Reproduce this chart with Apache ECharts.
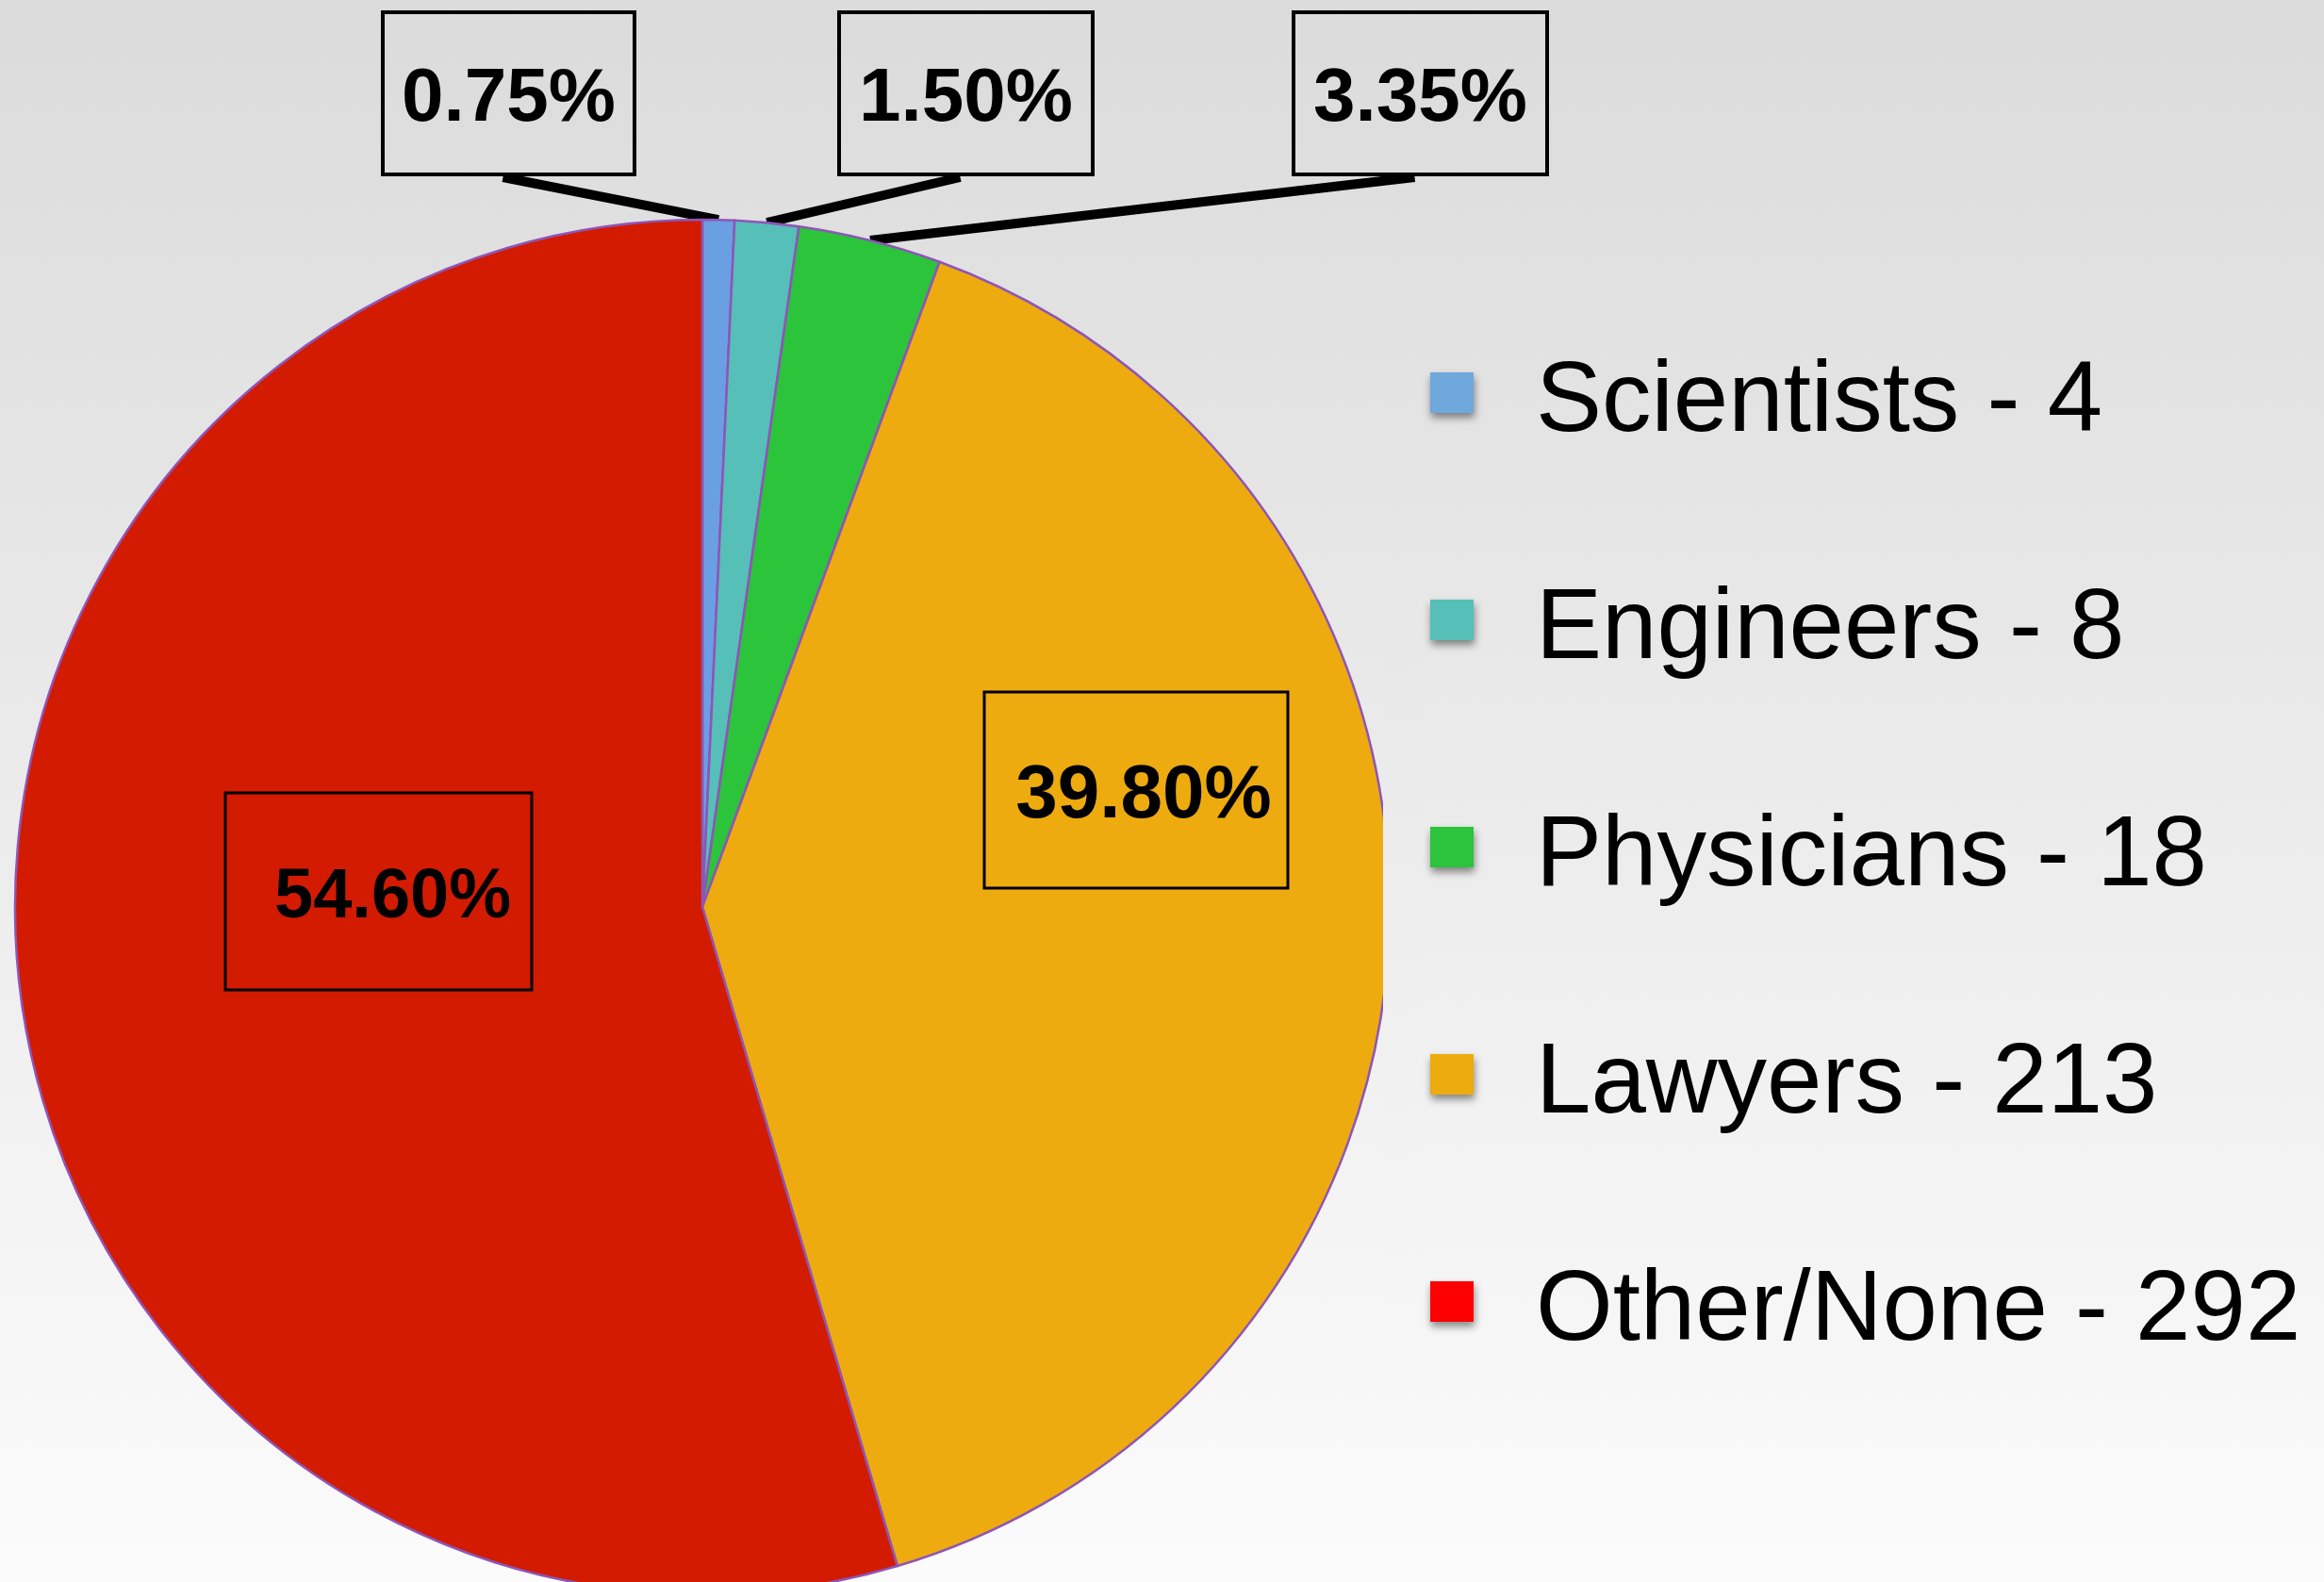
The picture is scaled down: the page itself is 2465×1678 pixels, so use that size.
<!DOCTYPE html>
<html><head><meta charset="utf-8">
<script src="https://cdn.jsdelivr.net/npm/echarts@6/dist/echarts.min.js"></script>
<style>html,body{margin:0;padding:0;background:#fff;}#c{width:2465px;height:1678px;}</style>
</head><body><div id="c"></div>
<script>
// ---- data ----
const categories = ['Scientists', 'Engineers', 'Physicians', 'Lawyers', 'Other/None'];
const counts = [4, 8, 18, 213, 292];
const percentLabels = ['0.75%', '1.50%', '3.35%', '39.80%', '54.60%'];

// ---- styles / layout ----
const sliceColors = ['#6b9fe4', '#55bfb8', '#2bc43b', '#edab10', '#d21b00'];
const legendColors = ['#6fa8dc', '#55bfb8', '#2bc43b', '#edab10', '#ff0000'];
// label boxes: [left, top, width, height, textOffsetX, fontSize]
const boxes = [
  [406, 13, 267, 172, 0, 80],
  [890, 13, 269, 172, 0, 80],
  [1372, 13, 269, 172, 0, 80],
  [1044, 734, 322, 208, 8, 80],
  [239, 841, 325, 209, 15, 74]
];
const textDrop = 14;
const H = 1678;
const bgTop = 219, bgBottom = 251;
function bgAt(y) { const v = Math.round(bgTop + (bgBottom - bgTop) * y / H); return 'rgb(' + v + ',' + v + ',' + v + ')'; }

const chart = echarts.init(document.getElementById('c'), null, { renderer: 'canvas' });

const data = categories.map((n, i) => {
  const b = boxes[i];
  const off = b[4];
  return {
    name: n,
    value: counts[i],
    itemStyle: { color: sliceColors[i] },
    label: {
      position: i < 3 ? 'outside' : 'inside',
      fontSize: b[5],
      height: b[3],
      lineHeight: b[3] + textDrop,
      width: b[2] - 2 * off,
      padding: [0, 0, 0, 2 * off],
      borderWidth: i < 3 ? 2 : 1.5
    },
    labelLine: { show: i < 3 }
  };
});

chart.setOption({
  animation: false,
  backgroundColor: new echarts.graphic.LinearGradient(0, 0, 0, 1, [
    { offset: 0, color: bgAt(0) }, { offset: 1, color: bgAt(H) }
  ]),
  legend: {
    orient: 'vertical',
    left: 1517,
    top: 352,
    padding: 0,
    itemWidth: 46,
    itemHeight: 43,
    itemGap: 112,
    icon: 'rect',
    selectedMode: false,
    itemStyle: { borderWidth: 0, shadowBlur: 8, shadowColor: 'rgba(0,0,0,0.45)', shadowOffsetX: 1, shadowOffsetY: 5 },
    textStyle: {
      fontFamily: 'Liberation Sans', fontSize: 105, color: '#000',
      rich: {
        t: { fontFamily: 'Liberation Sans', fontSize: 105, color: '#000', lineHeight: 106, padding: [24, 0, 0, 61] }
      }
    },
    formatter: name => '{t|' + name + ' - ' + counts[categories.indexOf(name)] + '}',
    data: categories.map((n, i) => ({ name: n, itemStyle: { color: legendColors[i] } }))
  },
  series: [{
    type: 'pie',
    center: [745, 962],
    radius: 729,
    startAngle: 90,
    clockwise: true,
    avoidLabelOverlap: false,
    emphasis: { disabled: true },
    itemStyle: { borderColor: '#8e55b8', borderWidth: 2.5 },
    label: {
      show: true,
      formatter: p => percentLabels[p.dataIndex],
      fontFamily: 'Liberation Sans',
      fontWeight: 'bold',
      color: '#000',
      borderColor: '#000',
      backgroundColor: 'transparent'
    },
    labelLine: { show: true, lineStyle: { color: '#000', width: 10, cap: 'butt' }, smooth: false },
    labelLayout: function (p) {
      const b = boxes[p.dataIndex];
      const cx = b[0] + b[2] / 2;
      const res = { x: cx, y: b[1], align: 'center', verticalAlign: 'top' };
      if (p.dataIndex < 3 && p.labelLinePoints) {
        res.labelLinePoints = [p.labelLinePoints[0], [cx - 6, b[1] + b[3] + 3]];
      }
      return res;
    },
    data: data
  }],
  graphic: [{
    type: 'rect',
    left: 1467,
    top: 700,
    z: 100,
    silent: true,
    shape: { width: 40, height: H - 700 },
    style: { fill: new echarts.graphic.LinearGradient(0, 0, 0, 1, [
      { offset: 0, color: bgAt(700) }, { offset: 1, color: bgAt(H) }
    ]) }
  }]
});
</script>
</body></html>
